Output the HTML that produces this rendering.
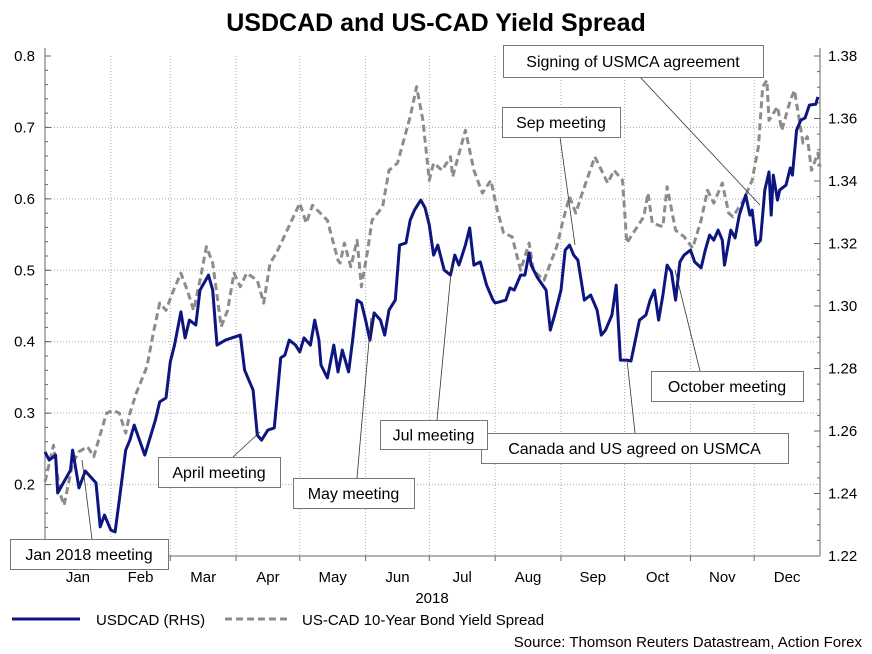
<!DOCTYPE html>
<html><head><meta charset="utf-8"><style>
body{margin:0;background:#fff;}
svg{display:block;font-family:"Liberation Sans",Arial,sans-serif;}
</style></head><body>
<svg id="chart" width="872" height="654" viewBox="0 0 872 654" xmlns="http://www.w3.org/2000/svg">
<rect width="872" height="654" fill="#fff"/>
<text x="436" y="31" text-anchor="middle" font-size="25" font-weight="bold">USDCAD and US-CAD Yield Spread</text>
<g id="grid"></g><g id="axes"></g><g id="series"></g><g id="annots"></g>
<g>
<line x1="12" y1="619" x2="80" y2="619" stroke="#0d1580" stroke-width="3"/>
<text x="96" y="625" font-size="15">USDCAD (RHS)</text>
<line x1="225" y1="619" x2="290" y2="619" stroke="#8c8c8c" stroke-width="3" stroke-dasharray="7,4"/>
<text x="302" y="625" font-size="15">US-CAD 10-Year Bond Yield Spread</text>
</g>
<text x="862" y="647" text-anchor="end" font-size="15">Source: Thomson Reuters Datastream, Action Forex</text>
<text x="432" y="603" text-anchor="middle" font-size="15">2018</text>
</svg>
<script>
const months=["Jan","Feb","Mar","Apr","May","Jun","Jul","Aug","Sep","Oct","Nov","Dec"];
const monthStarts=[0,31,59,90,120,151,181,212,243,273,304,334,365];
const leftTicks=[0.1,0.2,0.3,0.4,0.5,0.6,0.7,0.8];
const rightTicks=[1.22,1.24,1.26,1.28,1.30,1.32,1.34,1.36,1.38];
const usdDays=[0,2,5,6,12,13,16,19,24,26,28,31,33,35,38,40,42,47,52,54,57,59,61,64,66,68,71,73,77,79,81,85,92,94,98,100,102,105,108,111,113,115,118,120,122,125,127,129,130,133,136,138,140,143,145,147,149,151,153,155,158,160,162,165,167,170,172,174,177,179,181,183,185,188,191,193,195,198,200,202,205,208,211,212,214,217,219,221,224,226,228,229,232,236,238,240,243,245,247,249,251,254,257,260,262,264,267,269,271,274,276,280,283,285,287,289,291,293,295,297,299,301,304,306,309,311,313,315,317,319,320,323,325,327,330,332,333,335,337,339,341,342,343,345,346,349,351,352,354,356,358,360,363,364];
const usdVals=[1.2533,1.2507,1.2523,1.2402,1.2475,1.2539,1.2418,1.2472,1.2434,1.2293,1.2331,1.2283,1.2277,1.2379,1.2539,1.2571,1.2619,1.2523,1.2635,1.2693,1.2706,1.2821,1.2875,1.2981,1.2898,1.2955,1.2939,1.3051,1.3099,1.3051,1.2875,1.2891,1.2907,1.2795,1.2731,1.2587,1.2571,1.2603,1.2610,1.2834,1.2843,1.2891,1.2875,1.2853,1.2898,1.2875,1.2955,1.2891,1.2811,1.2770,1.2875,1.2789,1.2859,1.2789,1.2898,1.3019,1.3010,1.2955,1.2891,1.2978,1.2955,1.2907,1.2987,1.3019,1.3195,1.3202,1.3275,1.3307,1.3339,1.3314,1.3259,1.3163,1.3195,1.3115,1.3099,1.3163,1.3131,1.3195,1.3250,1.3131,1.3141,1.3067,1.3019,1.3010,1.3013,1.3019,1.3058,1.3051,1.3099,1.3099,1.3170,1.3131,1.3090,1.3051,1.2923,1.2971,1.3051,1.3179,1.3195,1.3163,1.3147,1.3019,1.3035,1.2987,1.2907,1.2923,1.2971,1.3067,1.2827,1.2827,1.2824,1.2955,1.2971,1.3019,1.3051,1.2955,1.3035,1.3131,1.3109,1.3019,1.3141,1.3163,1.3179,1.3141,1.3122,1.3179,1.3227,1.3211,1.3243,1.3211,1.3131,1.3243,1.3218,1.3291,1.3355,1.3291,1.3307,1.3195,1.3211,1.3371,1.3429,1.3291,1.3419,1.3339,1.3371,1.3387,1.3442,1.3419,1.3563,1.3595,1.3602,1.3643,1.3646,1.3669];
const sprDays=[0,4,7,9,13,16,20,23,25,29,32,35,38,40,43,48,51,54,57,60,64,67,70,73,76,79,83,86,89,92,95,100,103,106,109,114,120,123,126,133,138,139,141,144,147,149,152,154,159,162,166,172,175,178,181,183,187,191,192,198,202,206,210,213,216,220,224,228,230,235,241,244,247,250,253,259,265,268,272,274,277,282,284,286,291,293,297,301,305,309,312,315,319,322,324,329,333,336,338,340,341,345,347,351,353,357,359,361,364,365];
const sprVals=[0.204,0.255,0.188,0.171,0.230,0.246,0.253,0.239,0.260,0.300,0.304,0.300,0.272,0.300,0.328,0.365,0.412,0.454,0.444,0.468,0.496,0.472,0.444,0.486,0.533,0.510,0.421,0.444,0.496,0.477,0.496,0.486,0.454,0.510,0.524,0.556,0.594,0.566,0.591,0.570,0.514,0.510,0.538,0.505,0.542,0.477,0.528,0.570,0.589,0.640,0.650,0.715,0.757,0.710,0.626,0.650,0.640,0.659,0.631,0.696,0.640,0.608,0.626,0.584,0.552,0.547,0.500,0.538,0.500,0.486,0.533,0.570,0.603,0.580,0.608,0.659,0.622,0.640,0.626,0.538,0.552,0.575,0.608,0.566,0.561,0.617,0.556,0.547,0.531,0.570,0.612,0.594,0.622,0.580,0.575,0.598,0.626,0.673,0.757,0.766,0.710,0.729,0.696,0.738,0.752,0.678,0.687,0.640,0.664,0.645];

const NS="http://www.w3.org/2000/svg";
const X0=45,X1=820,Y0=56,Y1=556;
const xS=d=>X0+d*(X1-X0)/365;
const yL=v=>Y1-(v-0.1)*(Y1-Y0)/0.7;
const yR=v=>Y1-(v-1.22)*(Y1-Y0)/0.16;
function mk(tag,attrs,parent,txt){const e=document.createElementNS(NS,tag);for(const k in attrs)e.setAttribute(k,attrs[k]);if(txt!==undefined)e.textContent=txt;parent.appendChild(e);return e;}
const grid=document.getElementById('grid'),axes=document.getElementById('axes'),ser=document.getElementById('series'),ann=document.getElementById('annots');
// grid
for(let i=1;i<12;i++){const x=xS(monthStarts[i]);
const g=mk('line',{x1:x,y1:Y0,x2:x,y2:Y1,stroke:'#aaa','stroke-dasharray':'1,2'},grid);

}
leftTicks.forEach(v=>{if(v>0.1&&v<0.8){const y=yL(v);
const g=mk('line',{x1:X0,y1:y,x2:X1,y2:y,stroke:'#aaa','stroke-dasharray':'1,2'},grid);

}});
// frame
mk('line',{x1:X0,y1:Y0-8,x2:X0,y2:Y1,stroke:'#666'},axes);
mk('line',{x1:X1,y1:Y0-8,x2:X1,y2:Y1,stroke:'#666'},axes);
mk('line',{x1:X0,y1:Y1,x2:X1,y2:Y1,stroke:'#666'},axes);
leftTicks.forEach(v=>{const y=yL(v);
const t=mk('text',{x:35,y:y+5,'text-anchor':'end','font-size':15},axes,v.toFixed(1));


mk('line',{x1:X0,y1:y,x2:X0+6,y2:y,stroke:'#666'},axes);});
for(let v=0.1;v<0.8;v+=0.02){const y=yL(v);mk('line',{x1:X0,y1:y,x2:X0+3,y2:y,stroke:'#666'},axes);}
rightTicks.forEach(v=>{const y=yR(v);
const t=mk('text',{x:828,y:y+5,'font-size':15},axes,v.toFixed(2));


mk('line',{x1:X1-6,y1:y,x2:X1,y2:y,stroke:'#666'},axes);});
for(let v=1.22;v<1.38;v+=0.005){const y=yR(v);mk('line',{x1:X1-3,y1:y,x2:X1,y2:y,stroke:'#666'},axes);}
months.forEach((m,i)=>{const x=xS((monthStarts[i]+monthStarts[i+1])/2);
const t=mk('text',{x:x,y:582,'text-anchor':'middle','font-size':15},axes,m);


mk('line',{x1:xS(monthStarts[i]),y1:Y1,x2:xS(monthStarts[i]),y2:Y1+5,stroke:'#666'},axes);});
// series
const sp=mk('path',{d:sprDays.map((d,i)=>(i?'L':'M')+xS(d).toFixed(1)+','+yL(sprVals[i]).toFixed(1)).join(''),fill:'none',stroke:'#8c8c8c','stroke-width':3,'stroke-dasharray':'7,4','stroke-linejoin':'round'},ser);


const us=mk('path',{d:usdDays.map((d,i)=>(i?'L':'M')+xS(d).toFixed(1)+','+yR(usdVals[i]).toFixed(1)).join(''),fill:'none',stroke:'#0d1580','stroke-width':3,'stroke-linejoin':'round'},ser);


// annotations
const notes=[
["Signing of USMCA agreement",503,45,260,32,640,77,760,205,"annot-usmca-signing"],
["Sep meeting",502,107,118,30,560,137,575,245,"annot-sep-meeting"],
["October meeting",651,371,152,30,700,371,675,270,"annot-oct-meeting"],
["Canada and US agreed on USMCA",481,433,307,30,635,433,627,360,"annot-usmca-agreed"],
["Jul meeting",380,420,107,29,437,420,452,262,"annot-jul-meeting"],
["May meeting",293,478,121,30,357,478,371,318,"annot-may-meeting"],
["April meeting",158,457,122,30,233,457,260,432,"annot-apr-meeting"],
["Jan 2018 meeting",10,539,158,30,92,539,82,460,"annot-jan-meeting"]];
notes.forEach(n=>{
const g=mk('g',{},ann);


mk('line',{x1:n[5],y1:n[6],x2:n[7],y2:n[8],stroke:'#333','stroke-width':0.8},g);
mk('rect',{x:n[1]+0.5,y:n[2]+0.5,width:n[3],height:n[4],fill:'#fff',stroke:'#777'},g);
mk('text',{x:n[1]+n[3]/2,y:n[2]+n[4]/2+6,'text-anchor':'middle','font-size':16},g,n[0]);});
</script>
</body></html>
